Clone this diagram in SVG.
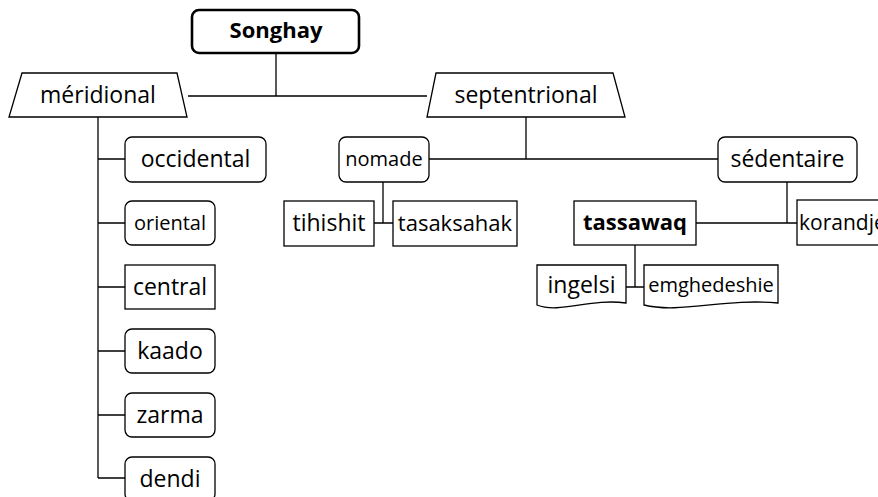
<svg xmlns="http://www.w3.org/2000/svg" width="878" height="497" viewBox="0 0 878 497">
<style>
.n{fill:#fff;stroke:#000;stroke-width:1.3}
.t{font-family:"Open Sans","Noto Sans",sans-serif;font-size:23px;fill:#000;text-anchor:middle}
.s{font-size:20px}
.b{font-weight:bold;font-size:22px}
.c{fill:none;stroke:#000;stroke-width:1.3}
</style>
<rect width="878" height="497" fill="#fff"/>
<g id="connectors">
<path class="c" d="M276 53V96M188 96H427"/>
<path class="c" d="M98 117V478M98 159H125M98 223H125M98 287H125M98 351H125M98 415H125M98 478H125"/>
<path class="c" d="M526 117V159M429 159H718"/>
<path class="c" d="M383 182V223M374 223H393"/>
<path class="c" d="M787 182V223M696 223H797"/>
<path class="c" d="M635 245V287M626 287H644"/>
</g>
<g id="songhay"><rect class="n" x="192" y="10" width="167" height="43" rx="7" style="stroke-width:2.6"/><text class="t b" x="276" y="38">Songhay</text></g>
<g id="meridional"><path class="n" d="M22 73H177L187 117H9Z"/><text class="t" x="98" y="103">méridional</text></g>
<g id="septentrional"><path class="n" d="M436 73H613L625 117H427Z"/><text class="t" x="526" y="103">septentrional</text></g>
<g id="occidental"><rect class="n" x="125" y="137" width="141" height="45" rx="7"/><text class="t" x="195.5" y="167">occidental</text></g>
<g id="oriental"><rect class="n" x="125" y="201" width="90" height="44" rx="7"/><text class="t s" x="170" y="230">oriental</text></g>
<g id="central"><rect class="n" x="125" y="265" width="90" height="44"/><text class="t" x="170" y="295">central</text></g>
<g id="kaado"><rect class="n" x="125" y="329" width="90" height="44" rx="7"/><text class="t" x="170" y="359">kaado</text></g>
<g id="zarma"><rect class="n" x="125" y="393" width="90" height="44" rx="7"/><text class="t" x="170" y="423">zarma</text></g>
<g id="dendi"><rect class="n" x="125" y="457" width="90" height="44" rx="7"/><text class="t" x="170" y="487">dendi</text></g>
<g id="nomade"><rect class="n" x="339" y="137" width="90" height="45" rx="7"/><text class="t s" x="384" y="166">nomade</text></g>
<g id="sedentaire"><rect class="n" x="718" y="137" width="139" height="45" rx="7"/><text class="t" x="787.5" y="167">sédentaire</text></g>
<g id="tihishit"><rect class="n" x="284" y="201" width="90" height="45"/><text class="t" x="329" y="231">tihishit</text></g>
<g id="tasaksahak"><rect class="n" x="393" y="201" width="124" height="45"/><text class="t" x="455" y="231" style="font-size:22px">tasaksahak</text></g>
<g id="tassawaq"><rect class="n" x="574" y="201" width="122" height="44"/><text class="t b" x="635" y="230">tassawaq</text></g>
<g id="korandje"><rect class="n" x="797" y="200" width="100" height="45"/><text class="t s" x="799" y="230" style="text-anchor:start;font-size:21px">korandje</text></g>
<g id="ingelsi"><path class="n" d="M537 265H626V303C590 298 560 314 537 305Z"/><text class="t" x="581.5" y="293">ingelsi</text></g>
<g id="emghedeshie"><path class="n" d="M644 265H778V303C724 298 680 314 644 305Z"/><text class="t s" x="711" y="292">emghedeshie</text></g>
</svg>
